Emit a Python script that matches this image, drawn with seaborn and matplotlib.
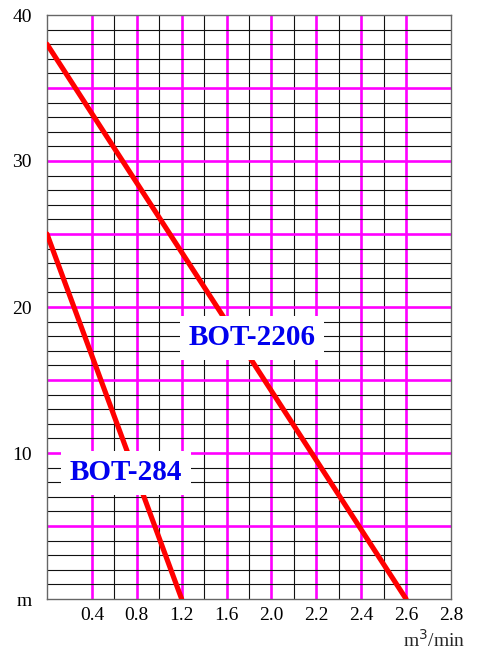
import numpy as np
import pandas as pd
import matplotlib
matplotlib.use("Agg")
import matplotlib.pyplot as plt
from matplotlib.ticker import FixedLocator, FixedFormatter
import seaborn as sns

# ---- data ----
x_tick_values = [0.0, 0.4, 0.8, 1.2, 1.6, 2.0, 2.2, 2.4, 2.6, 2.8]
x_tick_labels = ["", "0.4", "0.8", "1.2", "1.6", "2.0", "2.2", "2.4", "2.6", "2.8"]
y_tick_values = [0, 10, 20, 30, 40]
y_tick_labels = ["m", "10", "20", "30", "40"]

bot2206_flow = [0.0, 2.6]
bot2206_head = [38, 0]
bot284_flow = [0.0, 1.2]
bot284_head = [25, 0]

sns.set_theme(style="white")
plt.rcParams['font.family'] = ['Liberation Serif', 'DejaVu Serif']

df = pd.concat([
    pd.DataFrame({"flow": bot2206_flow, "head": bot2206_head, "model": "BOT-2206"}),
    pd.DataFrame({"flow": bot284_flow, "head": bot284_head, "model": "BOT-284"}),
])

fig = plt.figure(figsize=(4.81, 6.5), dpi=100)
ax = fig.add_axes([47/481, 1-599/650, 404/481, 584/650])

# piecewise-linear scale: each labelled value sits two grid columns apart
pos = np.arange(len(x_tick_values)) * 2.0
vals = np.array(x_tick_values)
fwd = lambda v: np.interp(v, vals, pos)
inv = lambda p: np.interp(p, pos, vals)
ax.set_xscale('function', functions=(fwd, inv))
ax.set_xlim(0, 2.8)
ax.set_ylim(0, 40)

# grid
minor_x = inv(np.arange(0, 19))
ax.xaxis.set_minor_locator(FixedLocator(minor_x))
ax.xaxis.set_major_locator(FixedLocator(x_tick_values))
ax.xaxis.set_major_formatter(FixedFormatter(x_tick_labels))
ax.yaxis.set_minor_locator(FixedLocator(np.arange(0, 41, 1)))
major_y = list(range(0, 41, 5))
ax.yaxis.set_major_locator(FixedLocator(major_y))
ax.yaxis.set_major_formatter(FixedFormatter(
    [y_tick_labels[y_tick_values.index(v)] if v in y_tick_values else "" for v in major_y]))

ax.grid(which='minor', color='#111111', linewidth=0.8, zorder=1)
ax.grid(which='major', color='#FF00FF', linewidth=1.9, zorder=2)
ax.set_axisbelow(True)

sns.lineplot(data=df, x="flow", y="head", units="model", estimator=None,
             color='#FF0000', linewidth=3.7, ax=ax, zorder=5, legend=False)
ax.set_xlabel("")
ax.set_ylabel("")

ax.tick_params(axis='x', which='both', length=0, pad=6, labelsize=14, colors='black')
ax.tick_params(axis='y', which='minor', length=0)
ax.tick_params(axis='y', which='major', length=7, width=1.9, color='#FF00FF',
               pad=4, labelsize=14, labelcolor='black')

fig.canvas.draw()
for t, v in zip(ax.yaxis.get_major_ticks(), major_y):
    if v not in (10, 20, 30):
        t.tick1line.set_visible(False)
    if v in (0, 40):
        t.gridline.set_visible(False)
for t, v in zip(ax.xaxis.get_major_ticks(), x_tick_values):
    if v in (0.0, 2.8):
        t.gridline.set_visible(False)
for t in ax.xaxis.get_minor_ticks()[:1] + ax.xaxis.get_minor_ticks()[-1:]:
    t.gridline.set_visible(False)

for s in ax.spines.values():
    s.set_color('#666666')
    s.set_linewidth(1.0)
    s.set_zorder(3)

box = dict(boxstyle='square,pad=0.3', facecolor='white', edgecolor='none')
ax.text(0.507, 0.447, "BOT-2206", transform=ax.transAxes, ha='center', va='center',
        fontsize=21, fontweight='bold', color='#0000EE', bbox=box, zorder=10)
ax.text(0.196, 0.216, "BOT-284", transform=ax.transAxes, ha='center', va='center',
        fontsize=21, fontweight='bold', color='#0000EE', bbox=box, zorder=10)

fig.text(465/481, 1-640/650, "m$^3$/min", ha='right', va='center', fontsize=14)

fig.savefig("out.png", dpi=100)
